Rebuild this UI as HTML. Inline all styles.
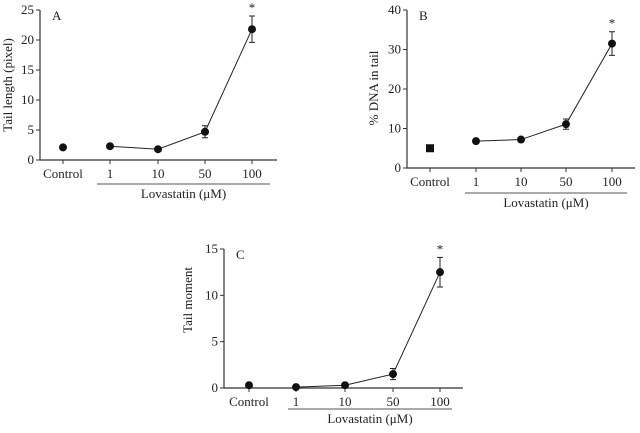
<!DOCTYPE html>
<html><head><meta charset="utf-8"><style>
body{margin:0;background:#fff}
svg text{font-family:"Liberation Serif",serif;fill:#222}
</style></head><body>
<svg id="s" width="640" height="428" xmlns="http://www.w3.org/2000/svg"></svg>
<script>
const categories=["Control","1","10","50","100"];
const valuesA=[2.1,2.3,1.8,4.7,21.8];
const errorsA=[0.2,0.2,0.2,1.0,2.2];
const ticksA=[0,5,10,15,20,25];
const valuesB=[5,6.8,7.2,11.1,31.5];
const errorsB=[0.4,0.5,0.5,1.3,3.0];
const ticksB=[0,10,20,30,40];
const valuesC=[0.3,0.1,0.3,1.5,12.5];
const errorsC=[0.1,0.1,0.1,0.6,1.6];
const ticksC=[0,5,10,15];
const NS="http://www.w3.org/2000/svg";
const svg=document.getElementById('s');
function el(t,a,p){const e=document.createElementNS(NS,t);for(const k in a)e.setAttribute(k,a[k]);(p||svg).appendChild(e);return e;}
function panel(cfg){
 const g=el('g',{});
 
 
 const y=v=>cfg.y0-(v/cfg.max)*(cfg.y0-cfg.yTop);
 const x=i=>cfg.xs[i];
 const ax=el('path',{d:`M${cfg.ax} ${cfg.yTop}V${cfg.y0}H${cfg.axEnd}`,stroke:'#333','stroke-width':1.2,fill:'none'},g);
 
 cfg.ticks.forEach(t=>{
  el('line',{x1:cfg.ax-4,x2:cfg.ax,y1:y(t),y2:y(t),stroke:'#333'},g);
  const tl=el('text',{x:cfg.ax-6,y:y(t)+4,'text-anchor':'end','font-size':13},g);tl.textContent=t;
  
 });
 categories.forEach((c,i)=>{
  el('line',{x1:x(i),x2:x(i),y1:cfg.y0,y2:cfg.y0+4,stroke:'#333'},g);
  const tl=el('text',{x:x(i),y:cfg.y0+18,'text-anchor':'middle','font-size':13},g);tl.textContent=c;
  
 });
 const ul=el('line',{x1:cfg.ul[0],x2:cfg.ul[1],y1:cfg.ulY,y2:cfg.ulY,stroke:'#555'},g);
 
 const lv=el('text',{x:(cfg.ul[0]+cfg.ul[1])/2,y:cfg.ulY+14,'text-anchor':'middle','font-size':13},g);lv.textContent='Lovastatin (μM)';
 
 const yt=el('text',{transform:`translate(${cfg.ytX},${cfg.ytY}) rotate(-90)`,'text-anchor':'middle','font-size':13},g);yt.textContent=cfg.title;
 
 const pl=el('text',{x:cfg.ax+12,y:cfg.yTop+10,'font-size':13},g);pl.textContent=cfg.id;
 
 let d='';for(let i=1;i<categories.length;i++)d+=(i==1?'M':'L')+x(i)+' '+y(cfg.v[i]);
 const ln=el('path',{d,stroke:'#222',fill:'none','stroke-width':1},g);
 
 categories.forEach((c,i)=>{
  const v=cfg.v[i],e=cfg.e[i];
  if(e>0.3*cfg.max/25){el('path',{d:`M${x(i)} ${y(v+e)}V${y(v-e)}M${x(i)-3} ${y(v+e)}H${x(i)+3}M${x(i)-3} ${y(v-e)}H${x(i)+3}`,stroke:'#222',fill:'none'},g);}
  let m;
  if(i==0&&cfg.square)m=el('rect',{x:x(i)-4,y:y(v)-4,width:8,height:8,fill:'#111'},g);
  else m=el('circle',{cx:x(i),cy:y(v),r:4,fill:'#111'},g);
  
 });
 const st=el('text',{x:x(4),y:y(cfg.v[4]+cfg.e[4])-4,'text-anchor':'middle','font-size':13},g);st.textContent='*';
 
}
panel({id:'A',v:valuesA,e:errorsA,ticks:ticksA,max:25,ax:40,axEnd:277,y0:160,yTop:10,xs:[63,110,158,205,252],ul:[97,270],ulY:184,title:'Tail length (pixel)',ytX:12,ytY:85});
panel({id:'B',v:valuesB,e:errorsB,ticks:ticksB,max:40,ax:407,axEnd:635,y0:168,yTop:10,xs:[430,476,521,566,612],ul:[465,627],ulY:193,title:'% DNA in tail',ytX:378,ytY:88,square:true});
panel({id:'C',v:valuesC,e:errorsC,ticks:ticksC,max:15,ax:224,axEnd:463,y0:388,yTop:249,xs:[249,296,345,393,440],ul:[288,452],ulY:409,title:'Tail moment',ytX:192,ytY:300});
</script>
</body></html>
